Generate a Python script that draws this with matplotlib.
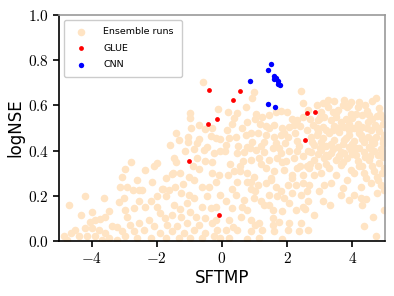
import matplotlib
matplotlib.use("Agg")
import matplotlib.pyplot as plt
from matplotlib.ticker import FuncFormatter

plt.rcParams['mathtext.fontset'] = 'cm'

# ensemble runs (SFTMP, logNSE)
ens_x = [
    -0.58, -0.13, -0.99, -0.99, -0.70, -0.53, -0.96, -1.42, -1.05, -1.32, -0.35, -0.17, -0.05,
    -1.60, -0.76, -1.04, -0.46, -0.87,
    0.98, 2.41, 0.91, 2.47, 0.73, 0.17, 0.47, 1.04, 0.37, 0.76, 1.01, 1.24, 1.44, 1.65, 1.80,
    1.98, 2.16, 2.31, 2.47, 1.16, 1.34, 1.60, 1.85, 2.06, 2.21, 0.14, 0.22, 0.42, 0.75, 1.09,
    1.34, 1.60, 1.80, 2.01, 2.24, 0.93, 1.29, 1.65, 1.93, 2.31, 0.12, 0.50, 0.78,
    3.26, 3.75, 3.96, 4.21, 4.72, 4.83, 3.24, 3.40, 3.70, 3.85, 4.16, 3.55, 3.04, 4.75, 3.96,
    4.31, 4.52, 3.14, 2.94, 3.34, 3.65, 3.91, 4.16, 4.47, 4.69, 4.93, 2.78, 3.09, 3.45, 3.75,
    4.06, 4.31, 4.57, 4.83, 2.94, 3.29, 3.60, 3.91, 4.21, 4.47, 4.72, 4.98, 2.73, 3.09, 3.45,
    3.75, 4.06, 4.37, 4.67, 4.93, 2.83, 3.19, 3.55, 3.91, 4.21, 4.57, 4.88,
    -2.97, -3.07, -3.12, -2.92, -2.74, -2.56, -4.22, -3.63, -4.71, -3.02, -3.17, -2.56, -2.71,
    -2.97, -2.92, -3.48, -3.99, -4.32, -3.58, -3.89, -3.74, -4.04, -3.38, -3.22, -2.82, -2.56,
    -4.22, -4.50, -3.99, -3.79, -4.62, -3.58, -3.07, -2.71, -4.86, -4.40, -4.14, -3.89, -3.48,
    -2.97, -2.61, -4.76, -3.68, -3.22,
    -0.56, -0.25, -0.76, -0.51, -1.99, -1.48, -2.35, -2.09, -1.53, -1.73, -0.30, -0.10, -1.02,
    -0.86, -0.20, -2.14, -2.45, -1.63, -1.27, -1.02, -0.86, -0.46, -0.05, -1.73, -2.19, -2.35,
    -1.99, -1.48, -1.07, -0.97, -0.61, -0.35, -1.89, -1.53, -1.27, -0.81, -0.51, -0.20, -2.24,
    -2.09, -1.68, -1.38, -1.07, -0.71, -0.30, -2.40, -1.89, -1.53, -1.17, -0.86, -0.51, -0.15,
    -2.19, -1.73, -1.32, -0.97, -0.61, -0.25, -0.05,
    0.68, 1.04, 1.29, 1.80, 2.06, 2.21, 2.47, 0.63, 0.88, 1.14, 1.44, 1.70, 1.96, 0.17, 0.37,
    0.78, 0.98, 1.34, 1.60, 1.90, 2.31, 2.47, 0.47, 0.78, 1.09, 1.34, 1.65, 2.01, 2.26, 2.47,
    0.42, 0.68, 0.98, 1.19, 1.44, 1.70, 1.90, 2.16, 2.41, 0.12, 0.32, 0.78, 1.29, 1.55, 1.85,
    2.26, 2.47, 0.22, 0.58, 0.88, 1.14, 1.55, 1.75, 2.06, 2.41, 0.12, 0.47, 0.88, 1.24, 1.60,
    2.01, 2.36, 0.22, 0.78, 1.14, 1.85,
    2.73, 3.04, 3.34, 3.65, 3.96, 4.37, 4.67, 4.93, 2.83, 3.14, 3.50, 3.85, 4.16, 4.52, 4.83,
    2.68, 2.94, 3.29, 3.65, 3.96, 4.31, 4.67, 4.98, 2.83, 3.50, 4.06, 4.42, 4.77, 2.68, 3.14,
    3.34, 3.70, 4.26, 4.57, 4.88, 2.99, 3.65, 3.91, 4.06, 4.26, 4.42, 4.77, 4.98, 2.63, 3.09,
    3.32, 4.31, 4.98, 2.83, 4.62, 4.35, 2.63, 4.72,
    3.00, 3.50, 4.00, 4.45, 4.85, 2.90, 3.40, 3.80, 4.25, 4.65, 3.20, 3.60, 4.10, 4.55, 4.95,
    2.60, 3.05, 3.85, 4.35, 4.80, 1.20, 1.75, 2.35, 0.55, 1.50, 2.15, 0.90, 2.60, 2.55, -0.70,
    -1.20, -1.80, -2.60, -0.40, -1.50, -2.80,
    2.65, 2.90, 3.10, 3.45, 3.90, 4.40, 4.60, 2.70, 3.00, 3.50, 3.80, 4.10, 4.60, 4.90, 2.60,
    2.90, 3.20, 3.55, 3.90, 4.20, 4.45, 4.80, 2.75, 3.05, 3.35, 3.70, 4.00, 4.30, 4.60, 4.95,
    2.65, 3.00, 3.40, 3.75, 4.10, 4.50, 4.80, 2.95, 3.25, 3.60, 4.00, 4.40, 2.70, 3.20, 3.70,
    4.20, 4.60, 4.90,
    0.30, 0.60, 0.90, 1.45, 1.90, 2.40, 0.10, 0.45, 0.85, 1.55, 2.30, 0.25, 0.55, 1.20, 1.85,
    2.40, 0.90, 1.50, 2.15, 0.30, 1.00, 1.80, 0.60, 1.45, 2.05, 0.35, 1.00, 1.55,
    -0.30, -0.90, -1.30, -0.60, -1.45, -1.85, -0.20, -1.30, -1.75, -2.00, -0.05, -0.30, -0.70,
    -1.15, -1.40,
]
ens_y = [
    0.702, 0.584, 0.565, 0.545, 0.513, 0.495, 0.498, 0.477, 0.461, 0.449, 0.463, 0.458, 0.451,
    0.424, 0.432, 0.436, 0.417, 0.409,
    0.659, 0.663, 0.634, 0.609, 0.591, 0.572, 0.567, 0.560, 0.545, 0.528, 0.542, 0.548, 0.557,
    0.569, 0.575, 0.572, 0.542, 0.535, 0.550, 0.520, 0.510, 0.513, 0.501, 0.505, 0.513, 0.491,
    0.454, 0.461, 0.468, 0.476, 0.468, 0.461, 0.468, 0.461, 0.480, 0.439, 0.436, 0.432, 0.432,
    0.442, 0.427, 0.421, 0.417,
    0.624, 0.624, 0.616, 0.616, 0.631, 0.590, 0.594, 0.572, 0.601, 0.594, 0.594, 0.579, 0.572,
    0.554, 0.564, 0.557, 0.557, 0.550, 0.535, 0.535, 0.528, 0.520, 0.520, 0.528, 0.513, 0.520,
    0.513, 0.505, 0.510, 0.505, 0.498, 0.505, 0.491, 0.486, 0.483, 0.476, 0.483, 0.471, 0.476,
    0.461, 0.461, 0.468, 0.461, 0.454, 0.446, 0.446, 0.442, 0.439, 0.432, 0.432, 0.427, 0.421,
    0.417, 0.417, 0.412, 0.409, 0.409,
    0.319, 0.285, 0.241, 0.237, 0.226, 0.226, 0.197, 0.189, 0.157, 0.189, 0.172, 0.178, 0.148,
    0.138, 0.108, 0.133, 0.130, 0.113, 0.108, 0.093, 0.098, 0.086, 0.064, 0.061, 0.071, 0.079,
    0.059, 0.049, 0.056, 0.049, 0.034, 0.034, 0.042, 0.042, 0.020, 0.024, 0.020, 0.024, 0.015,
    0.020, 0.012, 0.005, 0.005, 0.005,
    0.404, 0.389, 0.367, 0.352, 0.345, 0.367, 0.315, 0.330, 0.296, 0.278, 0.300, 0.293, 0.285,
    0.271, 0.263, 0.263, 0.226, 0.226, 0.212, 0.204, 0.189, 0.197, 0.204, 0.197, 0.175, 0.152,
    0.152, 0.160, 0.167, 0.130, 0.152, 0.145, 0.123, 0.116, 0.108, 0.108, 0.101, 0.093, 0.093,
    0.064, 0.071, 0.064, 0.079, 0.071, 0.079, 0.049, 0.034, 0.042, 0.034, 0.049, 0.034, 0.049,
    0.015, 0.012, 0.012, 0.015, 0.012, 0.020, 0.012,
    0.396, 0.404, 0.393, 0.389, 0.399, 0.367, 0.374, 0.352, 0.359, 0.367, 0.359, 0.367, 0.352,
    0.293, 0.308, 0.300, 0.285, 0.322, 0.308, 0.315, 0.322, 0.293, 0.263, 0.263, 0.248, 0.256,
    0.241, 0.248, 0.248, 0.256, 0.204, 0.182, 0.189, 0.175, 0.204, 0.197, 0.189, 0.212, 0.204,
    0.175, 0.145, 0.138, 0.160, 0.138, 0.133, 0.138, 0.152, 0.093, 0.108, 0.093, 0.079, 0.101,
    0.086, 0.079, 0.079, 0.049, 0.049, 0.045, 0.049, 0.042, 0.049, 0.042, 0.012, 0.009, 0.015,
    0.009,
    0.396, 0.404, 0.389, 0.396, 0.404, 0.393, 0.399, 0.389, 0.359, 0.367, 0.359, 0.367, 0.352,
    0.359, 0.345, 0.322, 0.330, 0.322, 0.337, 0.315, 0.330, 0.308, 0.322, 0.293, 0.293, 0.300,
    0.278, 0.285, 0.248, 0.248, 0.256, 0.234, 0.241, 0.256, 0.248, 0.219, 0.204, 0.182, 0.204,
    0.189, 0.186, 0.212, 0.226, 0.175, 0.175, 0.160, 0.160, 0.138, 0.116, 0.108, 0.068, 0.049,
    0.024,
    0.545, 0.565, 0.545, 0.575, 0.560, 0.470, 0.490, 0.455, 0.470, 0.450, 0.380, 0.375, 0.380,
    0.375, 0.370, 0.330, 0.300, 0.270, 0.300, 0.270, 0.420, 0.410, 0.420, 0.330, 0.280, 0.290,
    0.230, 0.220, 0.140, 0.320, 0.250, 0.230, 0.270, 0.240, 0.300, 0.350,
    0.580, 0.600, 0.610, 0.620, 0.600, 0.600, 0.620, 0.540, 0.550, 0.550, 0.540, 0.560, 0.540,
    0.550, 0.490, 0.500, 0.490, 0.500, 0.490, 0.490, 0.500, 0.500, 0.440, 0.440, 0.430, 0.430,
    0.430, 0.450, 0.440, 0.450, 0.400, 0.410, 0.405, 0.390, 0.410, 0.415, 0.380, 0.385, 0.375,
    0.375, 0.385, 0.370, 0.340, 0.340, 0.350, 0.330, 0.330, 0.300,
    0.520, 0.500, 0.480, 0.500, 0.480, 0.510, 0.400, 0.390, 0.410, 0.410, 0.400, 0.340, 0.310,
    0.340, 0.350, 0.330, 0.260, 0.270, 0.280, 0.230, 0.220, 0.220, 0.150, 0.160, 0.170, 0.060,
    0.070, 0.070,
    0.350, 0.330, 0.300, 0.240, 0.240, 0.230, 0.150, 0.140, 0.100, 0.200, 0.400, 0.500, 0.450,
    0.400, 0.350,
]

glue_x = [-0.385, 0.556, 0.329, -0.139, -0.424, 2.597, 2.855, 2.557, -1.007, -0.087]
glue_y = [0.669, 0.666, 0.625, 0.541, 0.520, 0.566, 0.573, 0.447, 0.353, 0.115]

cnn_x = [1.494, 1.424, 0.851, 1.598, 1.586, 1.709, 1.730, 1.770, 1.650, 1.424, 1.617]
cnn_y = [0.782, 0.758, 0.709, 0.730, 0.715, 0.709, 0.697, 0.689, 0.722, 0.607, 0.594]

fig = plt.figure(figsize=(3.94, 2.96), dpi=100)
ax = fig.add_axes([0.150, 0.186, 0.827, 0.763])

ax.scatter(ens_x, ens_y, s=30, color='bisque', linewidths=0, label='Ensemble runs')
ax.scatter(glue_x, glue_y, s=12, color='red', linewidths=0, label='GLUE')
ax.scatter(cnn_x, cnn_y, s=15, color='blue', linewidths=0, label='CNN')

ax.set_xlim(-5, 5)
ax.set_ylim(0, 1)
ax.set_xticks([-4, -2, 0, 2, 4])
ax.set_yticks([0.0, 0.2, 0.4, 0.6, 0.8, 1.0])
ax.xaxis.set_major_formatter(FuncFormatter(lambda v, p: r'$%d$' % v))
ax.yaxis.set_major_formatter(FuncFormatter(lambda v, p: r'$%.1f$' % v))
ax.tick_params(direction='out', length=4, width=1.2, labelsize=11, color='black')

for side in ['left', 'bottom']:
    ax.spines[side].set_color('black')
    ax.spines[side].set_linewidth(1.2)
for side in ['top', 'right']:
    ax.spines[side].set_color('#999999')
    ax.spines[side].set_linewidth(1.2)

ax.set_xlabel('SFTMP', fontsize=12, labelpad=2)
ax.set_ylabel('logNSE', fontsize=12, labelpad=2)

leg = ax.legend(loc='upper left', fontsize=6.8, markerscale=1.0, borderpad=0.8,
                labelspacing=0.8, handletextpad=1.4, framealpha=1)

fig.savefig('out.png', dpi=100)
